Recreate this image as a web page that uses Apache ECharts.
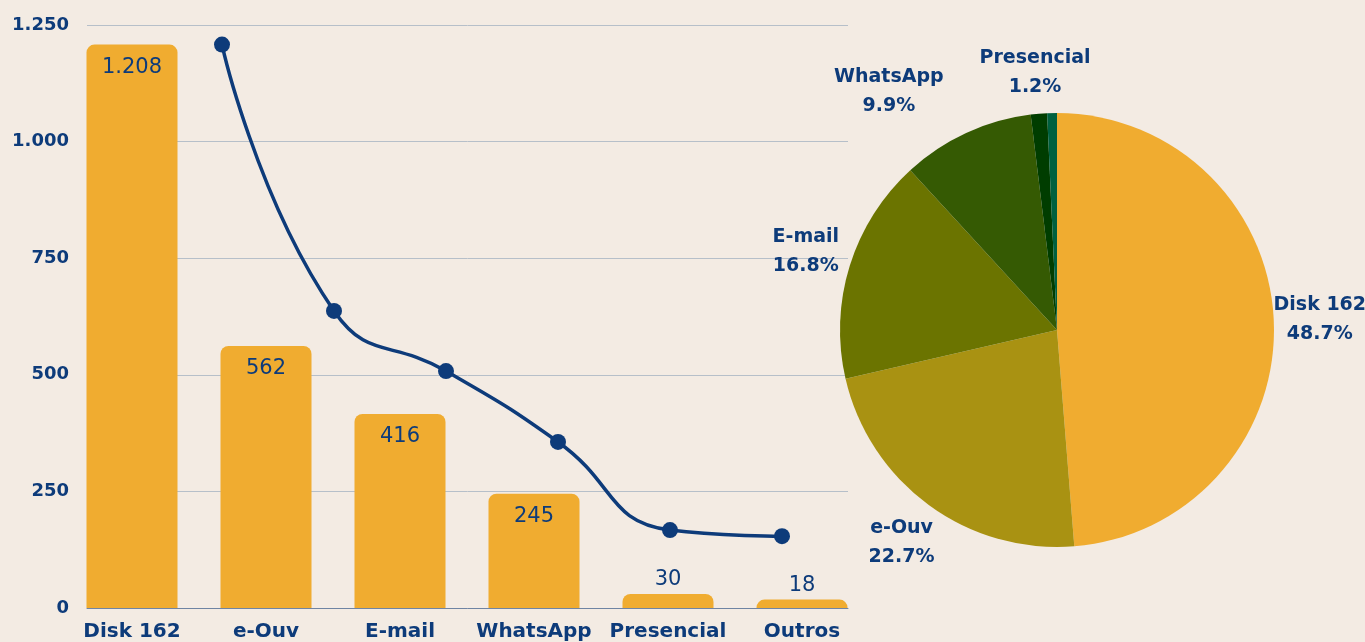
<!DOCTYPE html>
<html lang="pt">
<head>
<meta charset="UTF-8">
<title>Canais de atendimento</title>
<script src="https://cdn.jsdelivr.net/npm/echarts@6/dist/echarts.min.js"></script>
<style>
  html, body { margin: 0; padding: 0; background: #f3ebe3; }
  #main { width: 1365px; height: 642px; }
</style>
</head>
<body>
<div id="main"></div>
<script>
var categorias = ['Disk 162', 'e-Ouv', 'E-mail', 'WhatsApp', 'Presencial', 'Outros'];
var atendimentos = [1208, 562, 416, 245, 30, 18];
var tendencia = [1208, 637, 508, 356, 167, 154];
var yTicks = [0, 250, 500, 750, 1000, 1250];
var coresPizza = ['#f0ac30', '#a99212', '#6b7400', '#355a03', '#003d00', '#00603f'];

var azul = '#0d3b7a';
var fonte = '"DejaVu Sans", sans-serif';

function milhar(v) {
    return String(v).replace(/\B(?=(\d{3})+(?!\d))/g, '.');
}

var chart = echarts.init(document.getElementById('main'));

var barras = atendimentos.map(function (v) {
    var pequeno = v < 100;
    return {
        value: v,
        label: pequeno ? { position: 'top', distance: 4 } : { position: 'insideTop', distance: 12 }
    };
});

var fatias = categorias.map(function (c, i) {
    return { name: c, value: atendimentos[i], itemStyle: { color: coresPizza[i] } };
});

// anel transparente so para posicionar os rotulos da pizza
var rotulos = categorias.map(function (c, i) {
    var r = { name: c, value: atendimentos[i] };
    if (c === 'Outros') r.label = { show: false };
    if (c === 'WhatsApp') r.label = { offset: [-58, 0] };
    if (c === 'Presencial') r.label = { offset: [0, 5] };
    return r;
});

var option = {
    backgroundColor: '#f3ebe3',
    animation: false,
    grid: [
        { left: 87, width: 761, top: 25, height: 583 },   // linhas de grade
        { left: 65, width: 804, top: 25, height: 583 },   // barras
        { left: 166, width: 672, top: 25, height: 583 }   // linha
    ],
    xAxis: [
        {
            gridIndex: 0, type: 'category', data: categorias,
            axisLine: { lineStyle: { color: '#6f84a3', width: 1 } },
            axisTick: { show: false }, axisLabel: { show: false }
        },
        {
            gridIndex: 1, type: 'category', data: categorias,
            axisLine: { show: false }, axisTick: { show: false },
            axisLabel: { interval: 0, color: azul, fontFamily: fonte, fontWeight: 'bold', fontSize: 20, margin: 14 }
        },
        {
            gridIndex: 2, type: 'category', data: categorias, show: false
        }
    ],
    yAxis: [
        {
            gridIndex: 0, type: 'value', min: 0, max: 1250, interval: 250,
            axisLine: { show: false }, axisTick: { show: false },
            splitLine: { lineStyle: { color: '#b6bfc9', width: 1 } },
            axisLabel: {
                color: azul, fontFamily: fonte, fontWeight: 'bold', fontSize: 18, margin: 18,
                formatter: function (v) { return milhar(v); }
            }
        },
        { gridIndex: 1, type: 'value', min: 0, max: 1250, interval: 250, show: false },
        { gridIndex: 2, type: 'value', min: 0, max: 1250, interval: 250, show: false }
    ],
    series: [
        {
            type: 'bar', xAxisIndex: 1, yAxisIndex: 1,
            data: barras, barWidth: 91,
            itemStyle: { color: '#f0ac30', borderRadius: [8, 8, 0, 0] },
            label: {
                show: true, color: azul, fontFamily: fonte, fontSize: 21,
                formatter: function (p) { return milhar(p.value); }
            }
        },
        {
            type: 'line', xAxisIndex: 2, yAxisIndex: 2,
            data: tendencia, smooth: 0.5,
            symbol: 'circle', symbolSize: 16,
            lineStyle: { color: azul, width: 3.5 },
            itemStyle: { color: azul }
        },
        {
            type: 'pie', center: [1057, 330], radius: 217,
            startAngle: 90, clockwise: true,
            data: fatias,
            label: { show: false }, labelLine: { show: false }
        },
        {
            type: 'pie', center: [1057, 330], radius: [238, 282],
            startAngle: 90, clockwise: true, percentPrecision: 1,
            silent: true,
            data: rotulos,
            itemStyle: { color: 'rgba(0,0,0,0)' },
            label: {
                show: true, position: 'inside', color: azul,
                fontFamily: fonte, fontWeight: 'bold', fontSize: 19, lineHeight: 29,
                align: 'center', formatter: '{b}\n{d}%'
            },
            labelLine: { show: false }
        }
    ]
};

chart.setOption(option);
</script>
</body>
</html>
